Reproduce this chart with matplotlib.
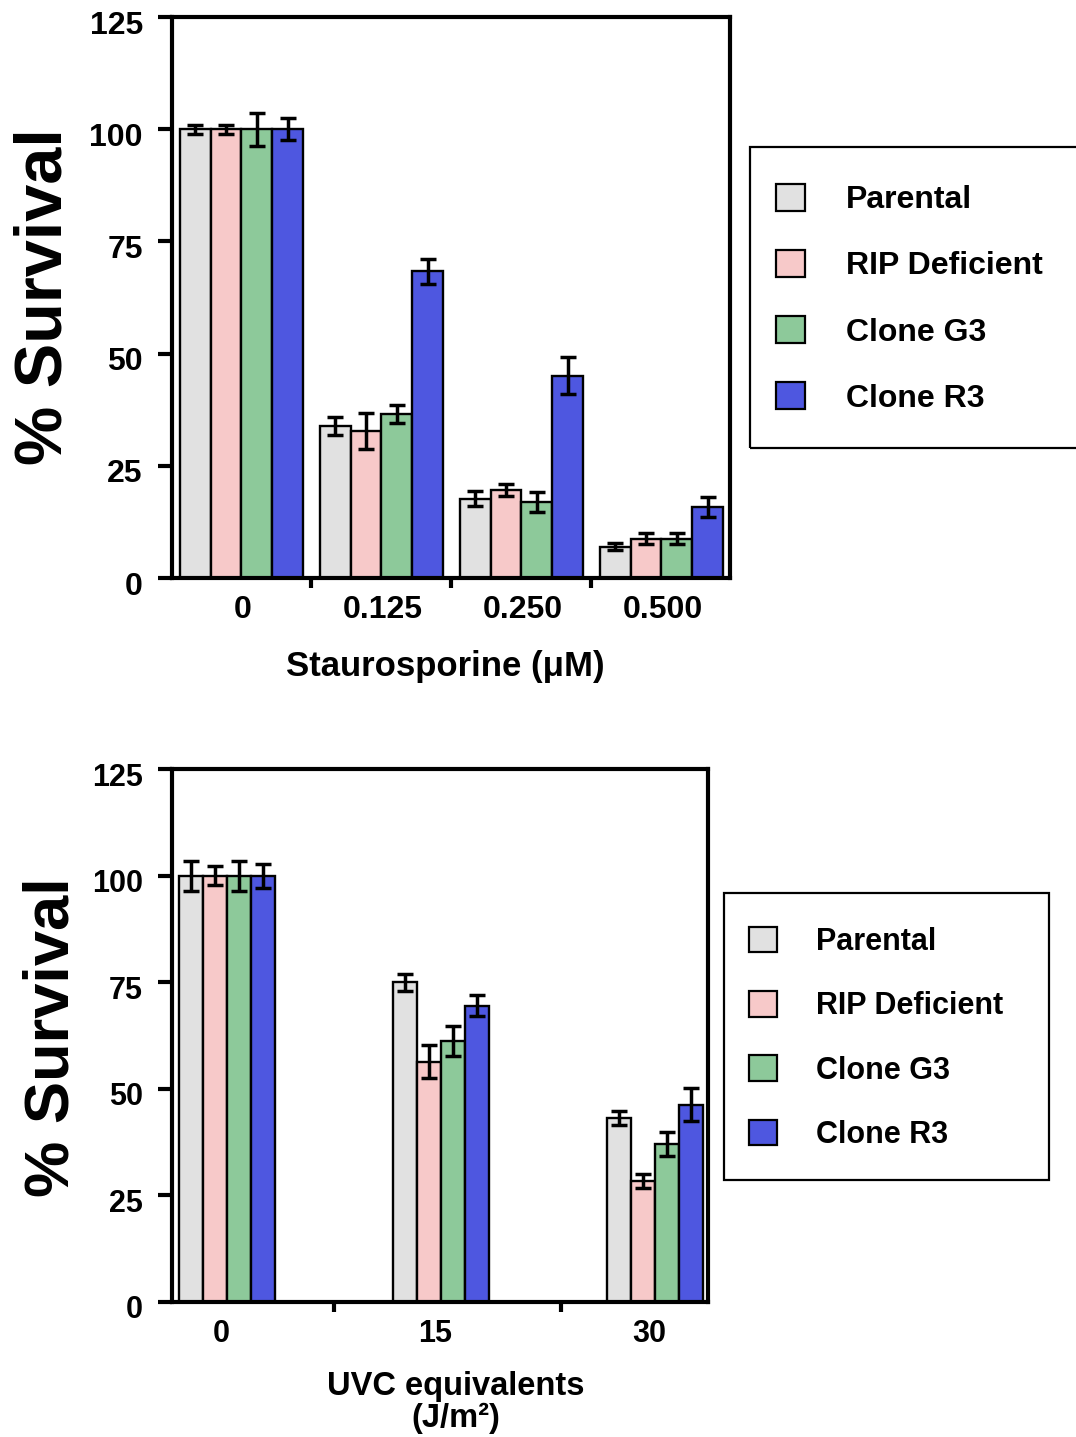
import matplotlib
matplotlib.use("Agg")
import matplotlib.pyplot as plt
import matplotlib.patches as mpatches
import matplotlib.transforms as mtransforms
import numpy as np

plt.rcParams['font.family'] = ['Liberation Sans', 'DejaVu Sans']
plt.rcParams['font.weight'] = 'bold'

series = ["Parental", "RIP Deficient", "Clone G3", "Clone R3"]
colors = ["#E1E1E1", "#F7C9C9", "#8DC99A", "#4E57E0"]

# Top panel: Staurosporine
sts_labels = ["0", "0.125", "0.250", "0.500"]
sts_parental = [100, 33.8, 17.7, 7.0]
sts_rip = [100, 32.8, 19.6, 8.8]
sts_g3 = [100, 36.5, 17.0, 8.8]
sts_r3 = [100, 68.3, 45.1, 15.8]
sts_parental_err = [1.0, 2.0, 1.6, 0.7]
sts_rip_err = [1.0, 4.0, 1.3, 1.3]
sts_g3_err = [3.7, 2.0, 2.2, 1.3]
sts_r3_err = [2.4, 2.8, 4.2, 2.2]

# Bottom panel: UVC
uvc_labels = ["0", "15", "30"]
uvc_parental = [100, 75.0, 43.2]
uvc_rip = [100, 56.4, 28.4]
uvc_g3 = [100, 61.3, 37.0]
uvc_r3 = [100, 69.5, 46.3]
uvc_parental_err = [3.5, 2.0, 1.6]
uvc_rip_err = [2.2, 3.8, 1.7]
uvc_g3_err = [3.5, 3.5, 2.8]
uvc_r3_err = [2.8, 2.4, 3.8]

yticks = [0, 25, 50, 75, 100, 125]

W, H = 1076, 1437
fig = plt.figure(figsize=(W / 100, H / 100), dpi=100)


def fx(px):
    return px / W


def fy(py):
    return 1 - py / H


def panel(rect, vals, errs, labels, barw, xlim, septicks, tickfs, label_shift):
    ax = fig.add_axes(rect)
    n = len(labels)
    x = np.arange(n)
    for i, (v, e, c) in enumerate(zip(vals, errs, colors)):
        off = (i - 1.5) * barw
        ax.bar(x + off, v, width=barw, color=c, edgecolor='black',
               linewidth=1.7, zorder=2)
        ax.errorbar(x + off, v, yerr=e, fmt='none', ecolor='black',
                    elinewidth=2.5, capsize=6, capthick=2.5, zorder=3)
    ax.set_xlim(*xlim)
    ax.set_ylim(0, 125)
    ax.set_yticks(yticks)
    ax.set_yticklabels([str(t) for t in yticks], fontsize=tickfs, fontweight='bold')
    ax.tick_params(axis='y', direction='out', length=10, width=3, pad=11)
    shift = mtransforms.ScaledTranslation(0, -5 / 100, fig.dpi_scale_trans)
    for lab in ax.get_yticklabels():
        lab.set_transform(lab.get_transform() + shift)
    ax.set_xticks(septicks)
    ax.set_xticklabels([])
    ax.tick_params(axis='x', which='major', direction='out', length=7, width=3)
    ax.set_xticks(x + label_shift, minor=True)
    ax.set_xticklabels(labels, minor=True, fontsize=tickfs, fontweight='bold')
    ax.tick_params(axis='x', which='minor', length=0, pad=12)
    for s in ax.spines.values():
        s.set_linewidth(3)
        s.set_zorder(4)
    return ax


ax1 = panel([fx(172), fy(578), fx(730) - fx(172), fy(17) - fy(578)],
            [sts_parental, sts_rip, sts_g3, sts_r3],
            [sts_parental_err, sts_rip_err, sts_g3_err, sts_r3_err],
            sts_labels, 0.22, (-0.496, 3.49), [0.5, 1.5, 2.5], 23, 0.01)

ax2 = panel([fx(172), fy(1302), fx(708) - fx(172), fy(769) - fy(1302)],
            [uvc_parental, uvc_rip, uvc_g3, uvc_r3],
            [uvc_parental_err, uvc_rip_err, uvc_g3_err, uvc_r3_err],
            uvc_labels, 0.113, (-0.257, 2.248), [0.5, 1.56], 22, -0.025)

# y labels
fig.text(fx(45), fy(297), "% Survival", rotation=90, ha='center', va='center',
         fontsize=48, fontweight='bold')
fig.text(fx(52), fy(1037), "% Survival", rotation=90, ha='center', va='center',
         fontsize=45.5, fontweight='bold')

# x labels
fig.text(fx(445), fy(666), "Staurosporine (\u03bcM)", ha='center', va='center',
         fontsize=25, fontweight='bold')
fig.text(fx(456), fy(1386), "UVC equivalents", ha='center', va='center',
         fontsize=23.5, fontweight='bold')
fig.text(fx(456), fy(1418), "(J/m\u00b2)", ha='center', va='center',
         fontsize=23.5, fontweight='bold')

# legends
handles = [mpatches.Patch(facecolor=c, edgecolor='black', linewidth=1.6) for c in colors]


def legend(ax, x0, y0, x1, y1, fs, hx, spacing_px, first_row_y, text_x, hsize):
    em = fs * 100 / 72
    leg = ax.legend(handles, series, loc='upper left',
                    bbox_to_anchor=(fx(hx), fy(first_row_y - em * 0.5)),
                    bbox_transform=fig.transFigure, frameon=False,
                    fontsize=fs, borderpad=0, borderaxespad=0,
                    handlelength=hsize / em, handleheight=hsize / em,
                    handletextpad=(text_x - hx - hsize) / em,
                    labelspacing=(spacing_px - em) / em,
                    prop={'weight': 'bold', 'size': fs})
    rect = mpatches.Rectangle((fx(x0), fy(y1)), fx(x1) - fx(x0), fy(y0) - fy(y1),
                              transform=fig.transFigure, fill=False,
                              edgecolor='black', linewidth=1.6)
    fig.add_artist(rect)
    return leg


legend(ax1, 750, 147, 1095, 448, 23, 776, 66.7, 200, 846, 29)
legend(ax2, 724, 893, 1049, 1180, 22, 749, 64.5, 942, 816, 28)

fig.savefig("out.png", dpi=100)
